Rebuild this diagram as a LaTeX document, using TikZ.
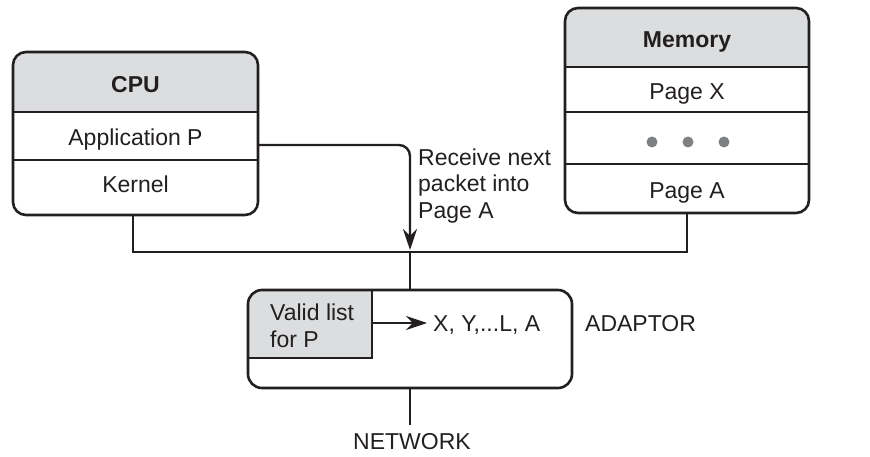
\documentclass[tikz,border=0pt]{standalone}
\usepackage{fontspec}
\setmainfont{Liberation Sans}
\usetikzlibrary{arrows.meta}
\definecolor{hdr}{HTML}{DCDDDE}
\definecolor{ink}{HTML}{231F20}
\definecolor{dotc}{HTML}{7F8082}
\begin{document}
\begin{tikzpicture}[x=1pt,y=-1pt,
  box/.style={draw=ink, line width=2.6pt, rounded corners=13pt, inner sep=0pt, outer sep=0pt, anchor=north west},
  divider/.style={draw=ink, line width=1.2pt},
  wire/.style={draw=ink, line width=2.4pt},
  tip/.style={-{Stealth[length=21pt,width=14pt,inset=7pt]}},
  lbl/.style={font=\fontsize{23}{27}\selectfont, text=ink, inner sep=0pt},
  hlbl/.style={lbl, font=\fontsize{23}{27}\selectfont\bfseries},
  dot/.style={fill=dotc}
]
\useasboundingbox (0,0) rectangle (870,457);

% ---------- CPU ----------
\begin{scope}
  \clip[rounded corners=13pt] (13,52) rectangle (258,215);
  \fill[hdr] (13,52) rectangle (258,112);
\end{scope}
\node[box, minimum width=245pt, minimum height=163pt] (cpu) at (13,52) {};
\draw[divider] (13,112) -- (258,112);
\draw[divider] (13,160) -- (258,160);
\node[hlbl, anchor=base] (cpuh) at (135.5,93) {CPU};
\node[lbl, anchor=base] (app) at (135.5,146) {Application P};
\node[lbl, anchor=base] (kern) at (135.5,193) {Kernel};

% ---------- Memory ----------
\begin{scope}
  \clip[rounded corners=13pt] (565,8) rectangle (809,213);
  \fill[hdr] (565,8) rectangle (809,67);
\end{scope}
\node[box, minimum width=244pt, minimum height=205pt] (mem) at (565,8) {};
\draw[divider] (565,67) -- (809,67);
\draw[divider] (565,112) -- (809,112);
\draw[divider] (565,164) -- (809,164);
\node[hlbl, anchor=base] (memh) at (687,48) {Memory};
\node[lbl, anchor=base] (pagex) at (687,100) {Page X};
\node[lbl, anchor=base] (pagea) at (687,199) {Page A};
\fill[dot] (652,142) circle (5.5pt);
\fill[dot] (688,142) circle (5.5pt);
\fill[dot] (724,142) circle (5.5pt);

% ---------- Adaptor ----------
\begin{scope}
  \clip[rounded corners=14pt] (248,290) rectangle (572,388);
  \fill[hdr] (248,290) rectangle (372,358);
  \draw[divider] (248,358) -- (372,358) -- (372,290);
\end{scope}
\node[box, rounded corners=14pt, minimum width=324pt, minimum height=98pt] (adaptor) at (248,290) {};
\node[lbl, align=left, anchor=north west, font=\fontsize{23}{27}\selectfont] (valid) at (270,303.5) {Valid list\\for P};
\node[lbl, anchor=base west] (list) at (433,331) {X, Y,...L, A};
\node[lbl, anchor=base west] (adlbl) at (585,331) {ADAPTOR};
\node[lbl, anchor=base] (net) at (412,449) {NETWORK};

% ---------- connectors ----------
\coordinate (junction) at (410,252);
\coordinate (astart) at (258,145);
\coordinate (vstart) at (372,323);
\coordinate (netend) at (410,425);
\draw[wire] (cpu.south -| 133,0) |- (junction) -| (mem.south);
\draw[wire, tip, rounded corners=11pt] (astart) -| ([yshift=2pt]junction);
\draw[wire] (junction) -- (adaptor.north);
\draw[wire] (adaptor.south) -- (netend);
\draw[wire, line width=1.6pt, tip] (vstart) -- (427,323);

\node[lbl, align=left, anchor=north west, font=\fontsize{23}{26.5}\selectfont] (recv) at (418,148.5) {Receive next\\packet into\\Page A};
\end{tikzpicture}
\end{document}
